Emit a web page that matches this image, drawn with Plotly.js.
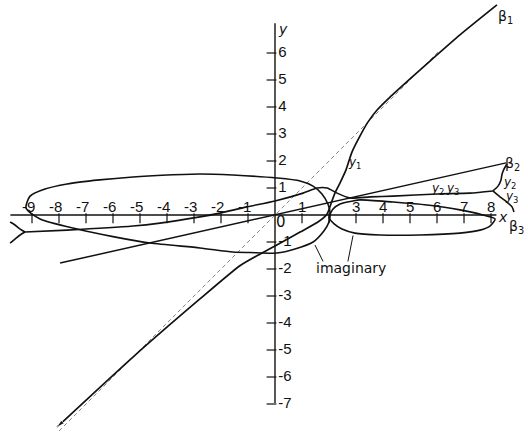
<!DOCTYPE html>
<html>
<head>
<meta charset="utf-8">
<script src="https://cdn.plot.ly/plotly-3.0.1.min.js"></script>
<style>
  html, body { margin: 0; padding: 0; background: #fff; }
  #chart { width: 528px; height: 435px; }
</style>
</head>
<body>
<div id="chart"></div>
<script>
// Axis ticks
const xTickVals   = [-9, -8, -7, -6, -5, -4, -3, -2, -1, 1, 2, 3, 4, 5, 6, 7, 8];
const xTickLabels = ['-9', '-8', '-7', '-6', '-5', '-4', '-3', '-2', '-1', '1', '', '3', '4', '5', '6', '7', '8'];
const yTickVals   = [-7, -6, -5, -4, -3, -2, -1, 1, 2, 3, 4, 5, 6];
const yTickLabels = ['-7', '-6', '-5', '-4', '-3', '-2', '-1', '1', '2', '3', '4', '5', '6'];

// Axis extents
const xAxisSpan = [-9.8, 8.2];
const yAxisSpan = [-6.96, 7.1];

// Asymptote y = x (dashed)
const asymX = [-8.0, 6.1];
const asymY = [-8.0, 6.1];

// Straight line beta2
const beta2X = [-7.96, 8.56];
const beta2Y = [-1.78, 1.93];

// Real root y1 (beta1 branch)
const y1X = [8.22, 6.85, 5.74, 5.00, 4.26, 3.78, 3.44, 3.15, 2.85, 2.63, 2.41, 2.22, 2.07, 1.93, 1.59, 0.93, 0.00, -0.56, -1.30, -2.78, -5.26, -8.07];
const y1Y = [7.78, 6.67, 5.70, 5.04, 4.37, 3.89, 3.44, 2.93, 2.33, 1.67, 1.19, 0.81, 0.41, 0.04, -0.26, -0.63, -1.15, -1.45, -1.88, -3.11, -5.26, -7.85];

// Imaginary part, left loop (closed)
const loopLX = [-9.22, -9.07, -8.52, -7.70, -6.50, -5.26, -4.00, -2.78, -1.56, 0.07, 0.93, 1.41, 1.74, 1.96, 2.04, 2.00, 1.81, 1.41, 0.74, 0.07, -0.93, -1.56, -2.78, -4.63, -6.00, -7.33, -8.70, -9.22];
const loopLY = [0.26, 0.70, 0.96, 1.15, 1.30, 1.41, 1.48, 1.52, 1.48, 1.37, 1.26, 1.07, 0.78, 0.41, 0.07, -0.26, -0.59, -1.00, -1.26, -1.41, -1.39, -1.37, -1.22, -1.04, -0.80, -0.52, -0.15, 0.26];

// Imaginary part, right loop (closed)
const loopRX = [2.00, 2.15, 2.41, 2.89, 3.15, 4.37, 5.63, 6.85, 7.70, 8.15, 7.96, 7.59, 6.85, 5.37, 3.89, 2.96, 2.48, 2.19, 2.00];
const loopRY = [-0.11, 0.22, 0.41, 0.52, 0.56, 0.48, 0.37, 0.19, 0.00, -0.15, -0.41, -0.56, -0.67, -0.74, -0.74, -0.67, -0.52, -0.33, -0.11];

// Real part of the pair y2, y3
const reX = [-9.26, -7.70, -5.26, -4.26, -2.78, -2.04, -1.04, 0.00, 1.04, 1.56, 1.93, 2.30, 2.78, 3.52, 4.37, 6.00, 7.22, 8.07];
const reY = [-0.63, -0.56, -0.41, -0.30, -0.07, 0.07, 0.30, 0.52, 0.81, 1.00, 1.00, 0.81, 0.63, 0.67, 0.70, 0.78, 0.81, 0.89];

// Branches splitting at the right end
const forkR2X = [8.07, 8.26, 8.37, 8.41, 8.48, 8.59];
const forkR2Y = [0.89, 1.07, 1.30, 1.52, 1.70, 1.89];
const forkR3X = [8.07, 8.33, 8.59, 8.78, 8.85];
const forkR3Y = [0.89, 0.67, 0.48, 0.30, 0.11];

// Branches splitting at the left end
const forkLUX = [-9.26, -9.44, -9.63, -9.81];
const forkLUY = [-0.63, -0.52, -0.37, -0.26];
const forkLDX = [-9.26, -9.44, -9.63, -9.81];
const forkLDY = [-0.63, -0.74, -0.89, -1.04];

const INK = '#111';
const TICK_FONT = { family: 'Liberation Sans, Arial, sans-serif', size: 15, color: INK };

const curve = (x, y, extra) => Object.assign({
  x, y, type: 'scatter', mode: 'lines', hoverinfo: 'skip',
  line: { color: INK, width: 1.6, shape: 'spline', smoothing: 0.7 }
}, extra || {});

const traces = [];

// axes
traces.push({ x: xAxisSpan, y: [0, 0], type: 'scatter', mode: 'lines', line: { color: INK, width: 1.4 }, hoverinfo: 'skip' });
traces.push({ x: [0, 0], y: yAxisSpan, type: 'scatter', mode: 'lines', line: { color: INK, width: 1.4 }, hoverinfo: 'skip' });

// tick marks: below the x axis, left of the y axis
traces.push({
  x: xTickVals, y: xTickVals.map(() => -0.12), type: 'scatter', mode: 'markers', hoverinfo: 'skip',
  marker: { symbol: 'line-ns', size: 7, line: { color: INK, width: 1.2 } }
});
traces.push({
  x: yTickVals.map(() => -0.13), y: yTickVals, type: 'scatter', mode: 'markers', hoverinfo: 'skip',
  marker: { symbol: 'line-ew', size: 7, line: { color: INK, width: 1.2 } }
});

// y tick labels, right of the axis
traces.push({
  x: yTickVals.map(() => 0.12), y: yTickVals,
  text: yTickLabels, type: 'scatter', mode: 'text', hoverinfo: 'skip',
  textposition: 'middle right', textfont: TICK_FONT
});

// dashed asymptote
traces.push({ x: asymX, y: asymY, type: 'scatter', mode: 'lines', hoverinfo: 'skip',
  line: { color: '#777', width: 0.9, dash: '4px,3px' } });

// curves
traces.push(curve(beta2X, beta2Y, { line: { color: INK, width: 1.5 } }));
traces.push(curve(y1X, y1Y, {
  mode: 'lines+markers',
  line: { color: INK, width: 1.7, shape: 'spline', smoothing: 0.6 },
  marker: { symbol: 'arrow', angleref: 'previous', color: INK,
            size: y1X.map((_, i) => i === y1X.length - 1 ? 8 : 0) }
}));
traces.push(curve(loopLX, loopLY));
traces.push(curve(loopRX, loopRY));
traces.push(curve(reX, reY, { line: { color: INK, width: 1.6, shape: 'spline', smoothing: 0.6 } }));
traces.push(curve(forkR2X, forkR2Y));
traces.push(curve(forkR3X, forkR3Y));
traces.push(curve(forkLUX, forkLUY));
traces.push(curve(forkLDX, forkLDY));

const lbl = (x, y, text, size) => ({
  x, y, xref: 'x', yref: 'y', text, showarrow: false,
  font: { family: 'DejaVu Sans, sans-serif', size: size || 13, color: INK }
});

// x tick labels sit above the axis, the digit over its tick
const xTickAnnotations = xTickVals
  .map((v, i) => ({ v, t: xTickLabels[i] }))
  .filter(d => d.t !== '')
  .map(d => ({
    x: d.v < 0 ? d.v - 0.13 : d.v, y: 0.33, xref: 'x', yref: 'y',
    text: d.t, showarrow: false, font: TICK_FONT
  }));

const layout = {
  width: 528, height: 435,
  margin: { l: 0, r: 0, t: 0, b: 0 },
  paper_bgcolor: '#fff', plot_bgcolor: '#fff',
  showlegend: false,
  xaxis: { range: [-10.185, 9.370], visible: false, fixedrange: true },
  yaxis: { range: [-8.148, 7.963], visible: false, fixedrange: true },
  annotations: xTickAnnotations.concat([
    lbl(8.55, 7.35, 'β<sub>1</sub>', 14),
    lbl(8.80, 1.90, 'β<sub>2</sub>', 14),
    lbl(8.95, -0.45, 'β<sub>3</sub>', 14),
    lbl(8.70, 1.19, '<i>y</i><sub>2</sub>', 12),
    lbl(8.76, 0.67, '<i>y</i><sub>3</sub>', 12),
    lbl(2.95, 1.93, '<i>y</i><sub>1</sub>', 12),
    lbl(6.00, 0.96, '<i>y</i><sub>2</sub>', 12),
    lbl(6.56, 0.96, '<i>y</i><sub>3</sub>', 12),
    lbl(8.46, -0.06, '<i>x</i>', 14),
    lbl(0.30, 6.88, '<i>y</i>', 14),
    lbl(0.22, -0.27, '0', 15),
    lbl(2.81, -1.95, 'imaginary', 14)
  ]),
  shapes: [
    { type: 'line', xref: 'x', yref: 'y', x0: 1.48, y0: -1.11, x1: 1.78, y1: -1.72, line: { color: INK, width: 1 } },
    { type: 'line', xref: 'x', yref: 'y', x0: 2.89, y0: -0.76, x1: 2.70, y1: -1.72, line: { color: INK, width: 1 } }
  ]
};

Plotly.newPlot('chart', traces, layout, { staticPlot: true, displayModeBar: false });
</script>
</body>
</html>
